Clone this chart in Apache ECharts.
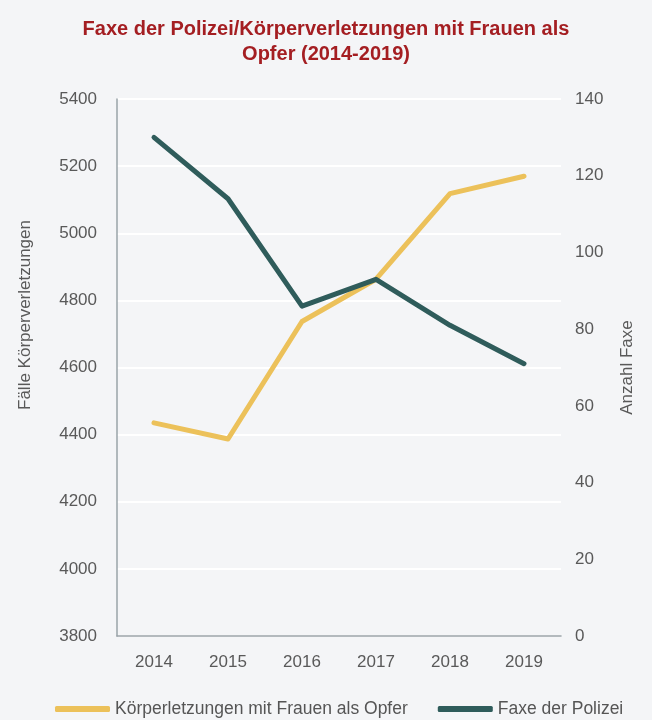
<!DOCTYPE html>
<html><head><meta charset="utf-8">
<script src="https://cdn.jsdelivr.net/npm/echarts@6/dist/echarts.min.js"></script>
<style>html,body{margin:0;padding:0;background:#f4f5f7;}#c{width:652px;height:720px;}</style>
</head><body><div id="c"></div>
<script>
const years = ['2014','2015','2016','2017','2018','2019'];
const koerperverletzungen = [4435, 4387, 4737, 4863, 5118, 5170];
const faxe = [130, 114, 86, 93, 81, 71];
const leftTicks = [3800, 5400, 200];
const rightTicks = [0, 140, 20];
const FONT = '"Liberation Sans Narrow", "Liberation Sans", Arial, sans-serif';
const chart = echarts.init(document.getElementById('c'));
chart.setOption({
  backgroundColor: '#f4f5f7',
  animation: false,
  title: {
    text: 'Faxe der Polizei/Körperverletzungen mit Frauen als\nOpfer (2014-2019)',
    left: 'center', top: 12,
    textStyle: {fontFamily: FONT, fontSize: 20, fontWeight: 'bold', color: '#a41e22', lineHeight: 25, align: 'center'}
  },
  legend: {
    bottom: 2, left: 55, padding: 0, itemGap: 30, itemWidth: 55, itemHeight: 6,
    icon: 'roundRect',
    textStyle: {fontFamily: FONT, fontSize: 17.5, color: '#555'},
    data: ['Körperletzungen mit Frauen als Opfer', 'Faxe der Polizei']
  },
  graphic: [{
    type: 'text', x: 25, y: 315, rotation: Math.PI / 2,
    style: {text: 'Fälle Körperverletzungen', fontFamily: FONT, fontSize: 17, fill: '#595959',
            textAlign: 'center', textVerticalAlign: 'middle'}
  }],
  grid: {left: 117, right: 91, top: 99, bottom: 84},
  xAxis: {
    type: 'category', data: years, boundaryGap: true,
    axisLine: {lineStyle: {color: '#9aa3a8', width: 1.5}},
    axisTick: {show: false},
    axisLabel: {fontFamily: FONT, fontSize: 17, color: '#595959', margin: 18}
  },
  yAxis: [{
    type: 'value', min: leftTicks[0], max: leftTicks[1], interval: leftTicks[2],
    axisLine: {show: true, lineStyle: {color: '#9aa3a8', width: 1.5}},
    axisTick: {show: false},
    axisLabel: {fontFamily: FONT, fontSize: 17, color: '#595959', margin: 20, formatter: v => String(v)},
    splitLine: {lineStyle: {color: '#ffffff', width: 2}}
  }, {
    type: 'value', min: rightTicks[0], max: rightTicks[1], interval: rightTicks[2],
    name: 'Anzahl Faxe', nameLocation: 'middle', nameGap: 58, nameRotate: 90,
    nameTextStyle: {fontFamily: FONT, fontSize: 17, color: '#595959'},
    axisLine: {show: false}, axisTick: {show: false},
    axisLabel: {fontFamily: FONT, fontSize: 17, color: '#595959', margin: 14},
    splitLine: {show: false}
  }],
  series: [{
    name: 'Körperletzungen mit Frauen als Opfer', type: 'line', yAxisIndex: 0,
    data: koerperverletzungen, symbol: 'none', color: '#ecc15a',
    lineStyle: {width: 5, cap: 'round', join: 'round'}
  }, {
    name: 'Faxe der Polizei', type: 'line', yAxisIndex: 1,
    data: faxe, symbol: 'none', color: '#2f5c5b',
    lineStyle: {width: 5, cap: 'round', join: 'round'}
  }]
});
</script></body></html>
